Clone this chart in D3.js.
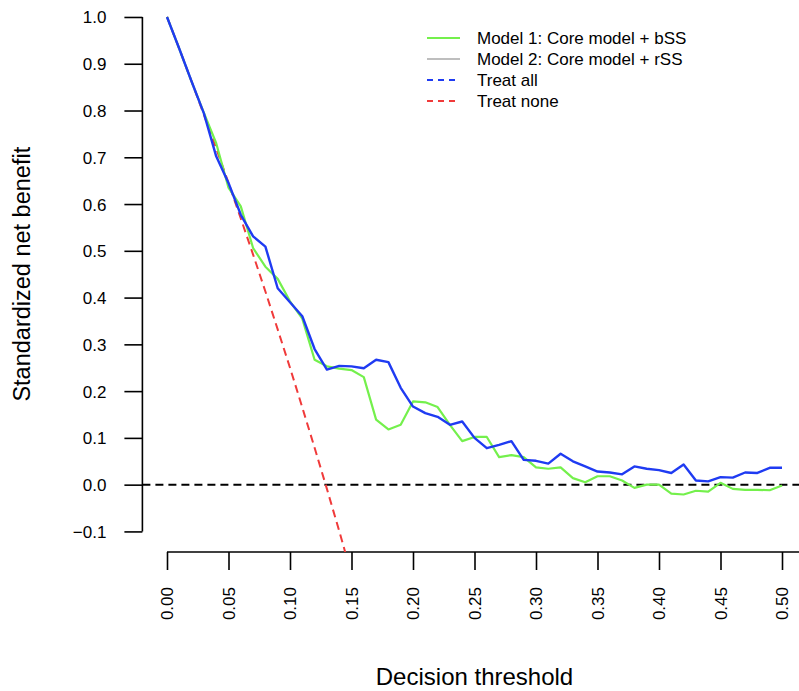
<!DOCTYPE html>
<html>
<head>
<meta charset="utf-8">
<script src="https://cdn.jsdelivr.net/npm/d3@7"></script>
<style>
  html, body { margin: 0; padding: 0; background: #fff; }
  svg { display: block; font-family: "Liberation Sans", Arial, Helvetica, sans-serif; }
</style>
</head>
<body>
<svg id="chart" width="799" height="691"></svg>
<script>
// ---- data ----
const thresholds = [0.00,0.01,0.02,0.03,0.04,0.05,0.06,0.07,0.08,0.09,
  0.10,0.11,0.12,0.13,0.14,0.15,0.16,0.17,0.18,0.19,
  0.20,0.21,0.22,0.23,0.24,0.25,0.26,0.27,0.28,0.29,
  0.30,0.31,0.32,0.33,0.34,0.35,0.36,0.37,0.38,0.39,
  0.40,0.41,0.42,0.43,0.44,0.45,0.46,0.47,0.48,0.49,0.50];

const model1 = [1.000,0.932,0.862,0.795,0.730,0.635,0.595,0.506,0.466,0.440,
  0.392,0.355,0.267,0.253,0.248,0.245,0.230,0.139,0.118,0.128,
  0.178,0.176,0.166,0.128,0.093,0.102,0.102,0.059,0.063,0.059,
  0.037,0.034,0.037,0.014,0.005,0.018,0.018,0.009,-0.007,0.000,
  0.000,-0.019,-0.021,-0.013,-0.015,0.004,-0.009,-0.011,-0.011,-0.012,-0.002];

const model2 = [1.000,0.932,0.862,0.794,0.702,0.645,0.577,0.531,0.509,0.420,
  0.390,0.360,0.290,0.246,0.254,0.253,0.249,0.267,0.262,0.207,
  0.167,0.153,0.145,0.128,0.135,0.100,0.078,0.085,0.093,0.053,
  0.051,0.045,0.066,0.050,0.039,0.028,0.026,0.022,0.039,0.034,
  0.031,0.025,0.043,0.009,0.007,0.016,0.015,0.026,0.025,0.036,0.036];

const treatAllThresholds = [0.00,0.01,0.02,0.03,0.04,0.05,0.06,0.07,0.08,0.09,0.10,0.11,0.12,0.13,0.14,0.15];
const treatAll = [1.000,0.932,0.862,0.791,0.719,0.645,0.569,0.492,0.413,0.332,0.250,0.165,0.079,-0.009,-0.099,-0.192];

const treatNone = 0;

const xTicks = [0.00,0.05,0.10,0.15,0.20,0.25,0.30,0.35,0.40,0.45,0.50];
const yTicks = [-0.1,0.0,0.1,0.2,0.3,0.4,0.5,0.6,0.7,0.8,0.9,1.0];

const legendLabels = ["Model 1: Core model + bSS","Model 2: Core model + rSS","Treat all","Treat none"];
const legendColors = ["#74f04c","#bebebe","#1f3bf2","#f03a3a"];
const legendDashed = [false,false,true,true];

// ---- layout ----
const svg = d3.select("#chart");
const plotL = 142.4, plotR = 806.6, plotT = -3.6, plotB = 552;
const x = d3.scaleLinear().domain([-0.02, 0.52]).range([plotL, plotR]);
const y = d3.scaleLinear().domain([-0.144, 1.044]).range([plotB, plotT]);

svg.append("defs").append("clipPath").attr("id","plotclip")
  .append("rect").attr("x", plotL).attr("y", plotT)
  .attr("width", plotR - plotL).attr("height", plotB - plotT);

// y axis
const yAxis = d3.axisLeft(y).tickValues(yTicks).tickFormat(d3.format(".1f"))
  .tickSize(18).tickPadding(18);
const gy = svg.append("g").attr("transform", `translate(${plotL},0)`).call(yAxis);
gy.select(".domain").remove();
gy.append("line").attr("x1",0).attr("x2",0).attr("y1",y(1.0)).attr("y2",y(-0.1))
  .attr("stroke","#000").attr("stroke-width",1.6);
gy.selectAll(".tick line").attr("stroke","#000").attr("stroke-width",1.6);
gy.selectAll(".tick text").attr("fill","#000").style("font-size","17px")
  .attr("dy", "0.35em");

// x axis
const xAxis = d3.axisBottom(x).tickValues(xTicks).tickFormat(d3.format(".2f"))
  .tickSize(18).tickPadding(0);
const gx = svg.append("g").attr("transform", `translate(0,${plotB})`).call(xAxis);
gx.select(".domain").remove();
gx.append("line").attr("x1", x(0)).attr("x2", 799).attr("y1",0).attr("y2",0)
  .attr("stroke","#000").attr("stroke-width",1.6);
gx.selectAll(".tick line").attr("stroke","#000").attr("stroke-width",1.6);
gx.selectAll(".tick text").attr("fill","#000").style("font-size","17px")
  .attr("transform","rotate(-90)").attr("x",-35).attr("y",0).attr("dy","0.35em")
  .attr("text-anchor","end");

// axis labels
svg.append("text").attr("x", (plotL + plotR) / 2).attr("y", 685)
  .attr("text-anchor","middle").style("font-size","24px").attr("fill","#000")
  .text("Decision threshold");
svg.append("text").attr("transform", `translate(30,${(y(1.0)+y(-0.1))/2}) rotate(-90)`)
  .attr("text-anchor","middle").style("font-size","23.5px").attr("fill","#000")
  .text("Standardized net benefit");

const plot = svg.append("g").attr("clip-path","url(#plotclip)");

// treat none (horizontal zero line)
plot.append("line").attr("x1", plotL).attr("x2", plotR)
  .attr("y1", y(treatNone)).attr("y2", y(treatNone))
  .attr("stroke","#000").attr("stroke-width",2).attr("stroke-dasharray","8,5");

const line = d3.line().x(d => x(d[0])).y(d => y(d[1]));

// treat all
plot.append("path").datum(treatAllThresholds.map((t,i)=>[t, treatAll[i]]))
  .attr("d", line).attr("fill","none").attr("stroke","#f03a3a")
  .attr("stroke-width",2).attr("stroke-dasharray","8,5");

// model 1 (green)
plot.append("path").datum(thresholds.map((t,i)=>[t, model1[i]]))
  .attr("d", line).attr("fill","none").attr("stroke","#74f04c")
  .attr("stroke-width",2.2).attr("stroke-linejoin","round");

// model 2 (blue)
plot.append("path").datum(thresholds.map((t,i)=>[t, model2[i]]))
  .attr("d", line).attr("fill","none").attr("stroke","#1f3bf2")
  .attr("stroke-width",2.4).attr("stroke-linejoin","round");

// legend
const lg = svg.append("g");
legendLabels.forEach((lab, i) => {
  const yy = 38 + i * 21;
  lg.append("line").attr("x1", 427).attr("x2", 460).attr("y1", yy).attr("y2", yy)
    .attr("stroke", legendColors[i]).attr("stroke-width", 2)
    .attr("stroke-dasharray", legendDashed[i] ? "6,5" : null);
  lg.append("text").attr("x", 477).attr("y", yy).attr("dy","0.35em")
    .style("font-size","17px").attr("fill","#000").text(lab);
});
</script>
</body>
</html>
